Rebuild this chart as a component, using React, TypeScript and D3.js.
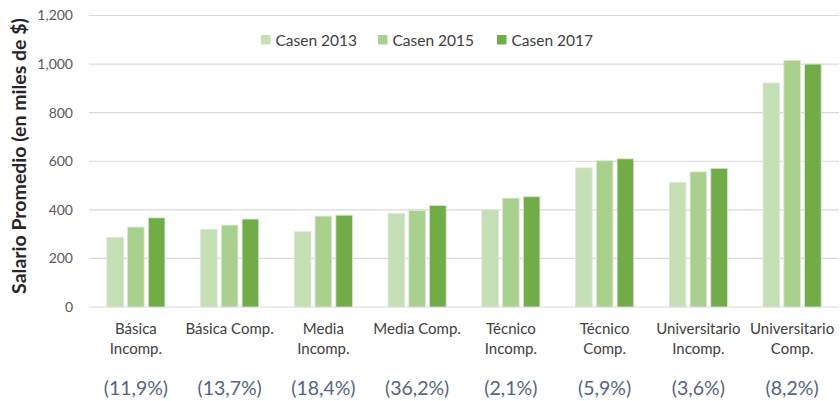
import React from "react";
import * as d3 from "d3";

const categories = [
  ["Básica", "Incomp."],
  ["Básica Comp."],
  ["Media", "Incomp."],
  ["Media Comp."],
  ["Técnico", "Incomp."],
  ["Técnico", "Comp."],
  ["Universitario", "Incomp."],
  ["Universitario", "Comp."],
];
const shares = ["(11,9%)", "(13,7%)", "(18,4%)", "(36,2%)", "(2,1%)", "(5,9%)", "(3,6%)", "(8,2%)"];
const seriesNames = ["Casen 2013", "Casen 2015", "Casen 2017"];
const casen2013 = [287, 320, 310, 385, 400, 573, 513, 922];
const casen2015 = [329, 337, 374, 398, 448, 602, 556, 1015];
const casen2017 = [367, 362, 378, 418, 454, 610, 571, 1000];
const yTicks = [0, 200, 400, 600, 800, 1000, 1200];
const colors = ["#C5E0B4", "#A9D18E", "#70AD47"];

const W = 840;
const H = 401;
const FONT = "Lato, 'Open Sans', sans-serif";

export default function App() {
  const series = [casen2013, casen2015, casen2017];
  const x0 = d3.scaleBand<number>().domain(d3.range(categories.length)).range([89, 839]);
  const bw = x0.bandwidth();
  const x1 = d3.scaleBand<number>().domain([0, 1, 2]).range([bw * 0.19, bw * 0.81]).paddingInner(0.2);
  const y = d3.scaleLinear().domain([0, 1200]).range([307, 15.5]);
  const fmt = d3.format(",");

  const legendX = [261, 378, 497];

  return (
    <div style={{ position: "absolute", left: 0, top: 0, width: W, height: H, overflow: "hidden" }}>
      <svg width={W} height={H} style={{ display: "block", fontFamily: FONT }}>
        <rect width={W} height={H} fill="#fff" />
        {yTicks.map((t) => (
          <g key={t}>
            <line x1={89} x2={839} y1={y(t)} y2={y(t)} stroke="#d9d9d9" strokeWidth={1.2} />
            <text x={73} y={y(t)} dy="0.35em" textAnchor="end" fontSize={14} fill="#595959">
              {fmt(t)}
            </text>
          </g>
        ))}
        {categories.map((_, i) => (
          <g key={i} transform={`translate(${x0(i)},0)`}>
            {series.map((s, j) => (
              <rect
                key={j}
                x={x1(j)}
                y={y(s[i])}
                width={x1.bandwidth()}
                height={y(0) - y(s[i])}
                fill={colors[j]}
                stroke="#e2e2e2"
                strokeWidth={0.8}
              />
            ))}
          </g>
        ))}
        {categories.map((lines, i) => {
          const cx = (x0(i) as number) + bw / 2;
          return (
            <g key={"l" + i}>
              {lines.map((ln, k) => (
                <text key={k} x={cx} y={334 + k * 20} textAnchor="middle" fontSize={15} fill="#404040">
                  {ln}
                </text>
              ))}
              <text x={cx} y={394.5} textAnchor="middle" fontSize={19.5} fill="#56657f">
                {shares[i]}
              </text>
            </g>
          );
        })}
        <text
          transform="translate(26,156) rotate(-90)"
          textAnchor="middle"
          fontSize={19.5}
          fontWeight="bold"
          fill="#262626"
        >
          Salario Promedio (en miles de $)
        </text>
        {seriesNames.map((n, j) => (
          <g key={n}>
            <rect x={legendX[j]} y={35} width={9.5} height={9.5} fill={colors[j]} />
            <text x={legendX[j] + 14.5} y={45.5} fontSize={15.5} fill="#404040">
              {n}
            </text>
          </g>
        ))}
      </svg>
    </div>
  );
}
